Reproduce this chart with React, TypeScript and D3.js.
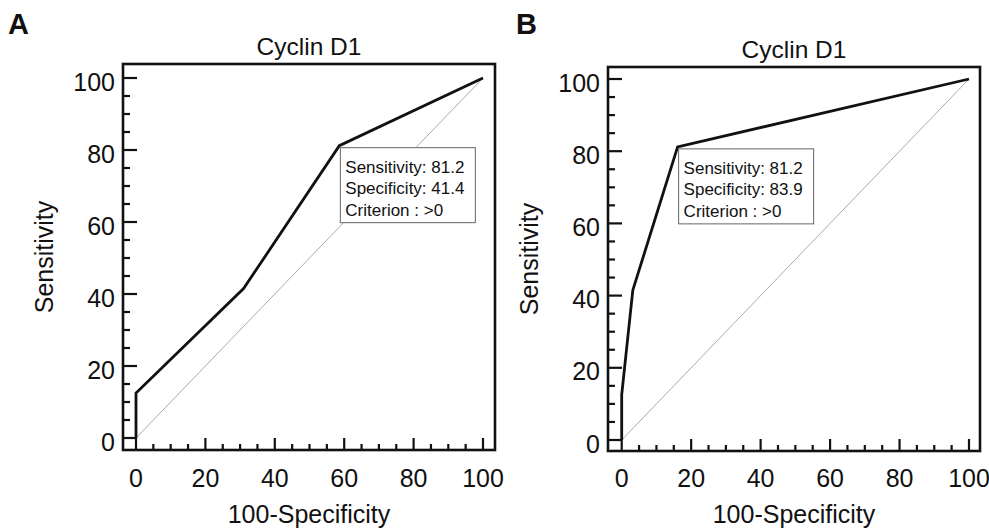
import React from "react";
import * as d3 from "d3";

// ROC points (100-Specificity, Sensitivity)
const rocAx = [0, 0, 31, 58.6, 100];
const rocAy = [0, 12.5, 41.5, 81.2, 100];
const rocBx = [0, 0, 3.2, 16.1, 100];
const rocBy = [0, 12.5, 41.5, 81.2, 100];

const panelLabels = ["A", "B"];
const titles = ["Cyclin D1", "Cyclin D1"];
const sensValues = [81.2, 81.2];
const specValues = [41.4, 83.9];
const criteria = [">0", ">0"];
const kneeIndex = 3;

const majorTicks = [0, 20, 40, 60, 80, 100];
const minorTicks = d3.range(0, 101, 5);

const FONT = "'Liberation Sans', Arial, Helvetica, sans-serif";

const panels = [
  { frame: { l: 123, t: 64, r: 495, b: 450 }, xr: [136, 483], yr: [438, 78], xs: rocAx, ys: rocAy, labelX: 8 },
  { frame: { l: 608, t: 67, r: 980, b: 451 }, xr: [621.7, 969], yr: [440, 79], xs: rocBx, ys: rocBy, labelX: 516 },
];

function Panel({ p, i }: { p: any; i: number }) {
  const x = d3.scaleLinear().domain([0, 100]).range(p.xr);
  const y = d3.scaleLinear().domain([0, 100]).range(p.yr);
  const { l, t, r, b } = p.frame;
  const pts: [number, number][] = p.xs.map((v: number, k: number) => [v, p.ys[k]]);
  const line = d3.line<[number, number]>().x(d => x(d[0])).y(d => y(d[1]));
  const bx = x(p.xs[kneeIndex]) + 1;
  const by = y(p.ys[kneeIndex]) + 2;
  const cx = (l + r) / 2;

  return (
    <g fontFamily={FONT} fill="#111">
      <text x={p.labelX} y={34} fontSize={29} fontWeight="bold">{panelLabels[i]}</text>
      <text x={cx} y={t - 9} fontSize={24.5} textAnchor="middle">{titles[i]}</text>

      {/* diagonal reference */}
      <line x1={x(0)} y1={y(0)} x2={x(100)} y2={y(100)} stroke="#aaa" strokeWidth={1} />

      {/* ticks */}
      {minorTicks.map(v => {
        const major = v % 20 === 0;
        return (
          <g key={v}>
            <line x1={l} x2={l + (major ? 14 : 7)} y1={y(v)} y2={y(v)} stroke="#111" strokeWidth={2.2} />
            <line x1={x(v)} x2={x(v)} y1={b} y2={b - (major ? 12 : 6)} stroke="#111" strokeWidth={2.2} />
          </g>
        );
      })}
      {majorTicks.map(v => (
        <g key={"l" + v}>
          <text x={l - 8} y={y(v)} dy="0.5em" fontSize={25} textAnchor="end">{v}</text>
          <text x={x(v)} y={487} fontSize={25} textAnchor="middle">{v}</text>
        </g>
      ))}

      {/* ROC curve */}
      <path d={line(pts) || ""} fill="none" stroke="#111" strokeWidth={2.8} strokeLinejoin="miter" />

      {/* frame */}
      <rect x={l} y={t} width={r - l} height={b - t} fill="none" stroke="#111" strokeWidth={2.6} />

      {/* info box */}
      <rect x={bx} y={by} width={135} height={75} fill="#fff" stroke="#666" strokeWidth={1} />
      <g fontSize={17}>
        <text x={bx + 5} y={by + 25}>{`Sensitivity: ${sensValues[i].toFixed(1)}`}</text>
        <text x={bx + 5} y={by + 46}>{`Specificity: ${specValues[i].toFixed(1)}`}</text>
        <text x={bx + 5} y={by + 68}>{`Criterion : ${criteria[i]}`}</text>
      </g>

      <text x={cx} y={523} fontSize={25} textAnchor="middle">100-Specificity</text>
      <text transform={`translate(${l - 70},${(t + b) / 2}) rotate(-90)`} fontSize={25} textAnchor="middle">Sensitivity</text>
    </g>
  );
}

export default function App() {
  return (
    <div style={{ position: "absolute", left: 0, top: 0 }}>
      <svg width={989} height={530} style={{ display: "block", background: "#fff" }}>
        {panels.map((p, i) => <Panel key={i} p={p} i={i} />)}
      </svg>
    </div>
  );
}
